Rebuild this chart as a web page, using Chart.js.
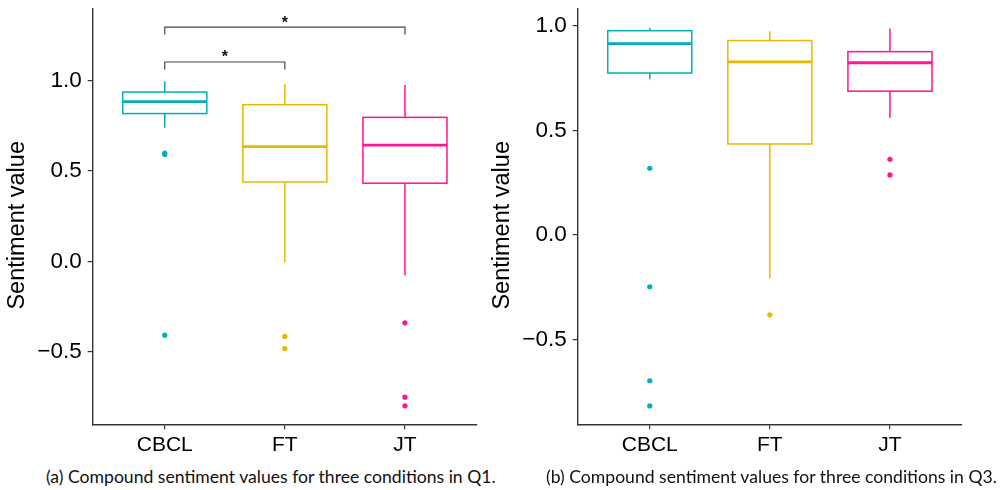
<!DOCTYPE html>
<html>
<head>
<meta charset="utf-8">
<script src="https://cdn.jsdelivr.net/npm/chart.js@4"></script>
<style>
  body { margin: 0; background: #fff; width: 1004px; height: 490px; position: relative; overflow: hidden; }
  canvas { position: absolute; top: 0; }
  #c1 { left: 0; }
  #c2 { left: 485px; }
  .cap { position: absolute; top: 466px; font-family: "Lato", sans-serif; font-size: 17.6px; color: #111; white-space: nowrap; }
  #cap1 { left: 46px; }
  #cap2 { left: 546px; }
</style>
</head>
<body>
<canvas id="c1" width="500" height="460"></canvas>
<canvas id="c2" width="500" height="460"></canvas>
<div class="cap" id="cap1">(a) Compound sentiment values for three conditions in Q1.</div>
<div class="cap" id="cap2">(b) Compound sentiment values for three conditions in Q3.</div>
<script>
const categories = ["CBCL", "FT", "JT"];
const colors = ["#00AFBB", "#E7B800", "#FF1493"];
const yTicks = [-0.5, 0, 0.5, 1.0];

// Q1
const q1Low = [0.740, -0.005, -0.076];
const q1Lower = [0.818, 0.440, 0.433];
const q1Median = [0.884, 0.635, 0.644];
const q1Upper = [0.937, 0.867, 0.797];
const q1High = [0.996, 0.983, 0.976];
const q1Outliers = [[0.600, 0.591, -0.407], [-0.414, -0.481], [-0.339, -0.750, -0.798]];
const q1BracketFrom = [1, 1];
const q1BracketTo = [3, 2];
const q1BracketY = [1.296, 1.103];
const q1BracketLabel = ["*", "*"];

// Q3
const q3Low = [0.744, -0.207, 0.559];
const q3Lower = [0.774, 0.435, 0.687];
const q3Median = [0.914, 0.827, 0.823];
const q3Upper = [0.976, 0.929, 0.876];
const q3High = [0.990, 0.973, 0.986];
const q3Outliers = [[0.319, -0.247, -0.696, -0.816], [-0.381], [0.362, 0.287]];

const boxWidth = 0.7;
const tipLength = 0.041;

const boxPlugin = {
  id: "boxes",
  beforeDatasetsDraw(chart) {
    const { ctx, scales: { x, y } } = chart;
    const s = chart.options.plugins.boxes;
    ctx.save();
    categories.forEach((_, i) => {
      const c = i + 1;
      const left = x.getPixelForValue(c - boxWidth / 2);
      const right = x.getPixelForValue(c + boxWidth / 2);
      const mid = x.getPixelForValue(c);
      ctx.strokeStyle = colors[i];
      ctx.lineWidth = 1.5;
      ctx.beginPath();
      ctx.moveTo(mid, y.getPixelForValue(s.high[i]));
      ctx.lineTo(mid, y.getPixelForValue(s.upper[i]));
      ctx.moveTo(mid, y.getPixelForValue(s.lower[i]));
      ctx.lineTo(mid, y.getPixelForValue(s.low[i]));
      ctx.stroke();
      const top = y.getPixelForValue(s.upper[i]);
      const bot = y.getPixelForValue(s.lower[i]);
      ctx.strokeRect(left, top, right - left, bot - top);
      ctx.lineWidth = 2.8;
      ctx.beginPath();
      const m = y.getPixelForValue(s.median[i]);
      ctx.moveTo(left, m);
      ctx.lineTo(right, m);
      ctx.stroke();
    });
    // significance brackets
    ctx.strokeStyle = "#444";
    ctx.lineWidth = 1.2;
    ctx.fillStyle = "#111";
    ctx.font = "bold 16px 'Liberation Sans'";
    ctx.textAlign = "center";
    ctx.textBaseline = "middle";
    (s.bFrom || []).forEach((f, k) => {
      const x1 = x.getPixelForValue(f);
      const x2 = x.getPixelForValue(s.bTo[k]);
      const yb = y.getPixelForValue(s.bY[k]);
      const yt = y.getPixelForValue(s.bY[k] - tipLength);
      ctx.beginPath();
      ctx.moveTo(x1, yt);
      ctx.lineTo(x1, yb);
      ctx.lineTo(x2, yb);
      ctx.lineTo(x2, yt);
      ctx.stroke();
      ctx.fillText(s.bLabel[k], (x1 + x2) / 2, yb - 4);
    });
    ctx.restore();
  },
  afterDraw(chart) {
    const { ctx, chartArea } = chart;
    ctx.save();
    ctx.fillStyle = "#000";
    ctx.font = "23.5px 'Liberation Sans'";
    ctx.textAlign = "center";
    ctx.textBaseline = "middle";
    ctx.translate(chartArea.left - 75, (chartArea.top + chartArea.bottom) / 2 + 9);
    ctx.rotate(-Math.PI / 2);
    ctx.fillText("Sentiment value", 0, 0);
    ctx.restore();
  }
};

function makeChart(id, st, outliers, yMin, yMax) {
  const datasets = outliers.map((vals, i) => ({
    data: vals.map(v => ({ x: i + 1, y: v })),
    backgroundColor: colors[i],
    borderColor: colors[i],
    pointRadius: 2.6,
    borderWidth: 0
  }));
  return new Chart(document.getElementById(id), {
    type: "scatter",
    data: { datasets },
    plugins: [boxPlugin],
    options: {
      responsive: false,
      animation: false,
      layout: { padding: { left: 0, right: 23, top: 8.3, bottom: 0 } },
      plugins: { legend: { display: false }, tooltip: { enabled: false }, boxes: st },
      scales: {
        x: {
          type: "linear", min: 0.4, max: 3.6,
          afterBuildTicks: s => { s.ticks = categories.map((_, i) => ({ value: i + 1 })); },
          afterFit: s => { s.height = 35.7; s.paddingLeft = 0; s.paddingRight = 0; },
          grid: { display: true, drawOnChartArea: false, drawTicks: true, tickLength: 5, color: "#333", lineWidth: 1.2 },
          border: { display: true, color: "#333", width: 1.4 },
          ticks: {
            autoSkip: false, maxRotation: 0, padding: 3, color: "#000",
            font: { family: "Liberation Sans", size: 21 },
            callback: v => categories[v - 1]
          }
        },
        y: {
          type: "linear", min: yMin, max: yMax,
          afterBuildTicks: s => { s.ticks = yTicks.map(v => ({ value: v })); },
          afterFit: s => { s.width = 92.7; s.paddingTop = 0; s.paddingBottom = 0; },
          grid: { display: true, drawOnChartArea: false, drawTicks: true, tickLength: 5, color: "#333", lineWidth: 1.2 },
          border: { display: true, color: "#333", width: 1.4 },
          ticks: {
            padding: 6, color: "#000",
            font: { family: "Liberation Sans", size: 22.5 },
            callback: v => (v < 0 ? "\u2212" + Math.abs(v).toFixed(1) : v.toFixed(1))
          }
        }
      }
    }
  });
}

makeChart("c1", {
  low: q1Low, lower: q1Lower, median: q1Median, upper: q1Upper, high: q1High,
  bFrom: q1BracketFrom, bTo: q1BracketTo, bY: q1BracketY, bLabel: q1BracketLabel
}, q1Outliers, -0.90, 1.40);

makeChart("c2", {
  low: q3Low, lower: q3Lower, median: q3Median, upper: q3Upper, high: q3High
}, q3Outliers, -0.904, 1.083);
</script>
</body>
</html>
